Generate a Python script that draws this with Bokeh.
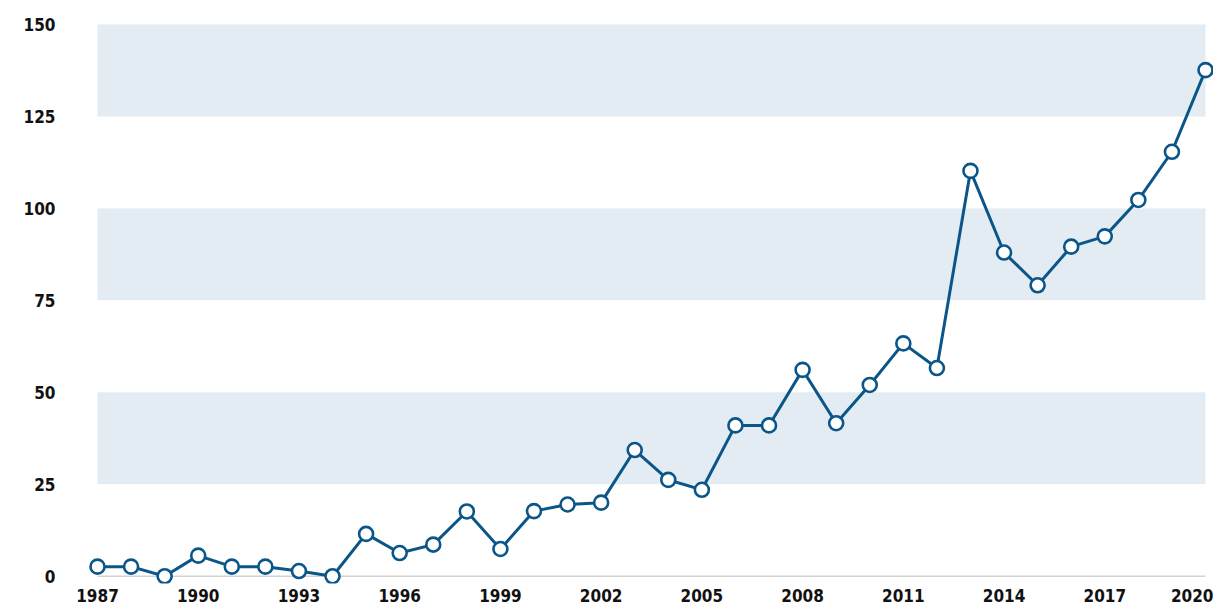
from bokeh.plotting import figure
from bokeh.models import FixedTicker
from bokeh.embed import file_html
from bokeh.resources import INLINE

years = list(range(1987, 2021))
values = [2.6, 2.6, 0.0, 5.6, 2.6, 2.6, 1.4, 0.0, 11.5, 6.3,
          8.6, 17.6, 7.4, 17.7, 19.5, 20.0, 34.3, 26.2, 23.5, 41.0,
          41.0, 56.1, 41.6, 52.0, 63.3, 56.6, 110.2, 88.0, 79.1, 89.6,
          92.4, 102.3, 115.4, 137.6]
y_ticks = [0, 25, 50, 75, 100, 125, 150]
x_ticks = years[::3]
band_bottoms = [25, 75, 125]
band_tops = [50, 100, 150]

FONT = "'DejaVu Sans Condensed', 'Liberation Sans Narrow', Roboto"
BLUE = "#0b5689"

p = figure(width=1213, height=607, output_backend="svg", toolbar_location=None,
           x_range=(1986.732, 2020.238), y_range=(-1.98, 154.35),
           min_border_left=88, min_border_right=0, min_border_top=8, min_border_bottom=24)
p.outline_line_color = None
p.xgrid.visible = False
p.ygrid.visible = False
p.background_fill_color = "white"

p.quad(left=[years[0]] * len(band_bottoms), right=[years[-1]] * len(band_bottoms),
       bottom=band_bottoms, top=band_tops, fill_color="#e4ecf3", line_color=None)
p.line(x=[years[0], years[-1]], y=[0, 0], line_color="#d3d3d3", line_width=1.5)

p.line(years, values, line_color=BLUE, line_width=3)
p.scatter(years, values, size=14, fill_color="white", line_color=BLUE, line_width=2.6)

for ax in (p.xaxis[0], p.yaxis[0]):
    ax.axis_line_color = None
    ax.major_tick_line_color = None
    ax.minor_tick_line_color = None
    ax.major_tick_out = 0
    ax.major_tick_in = 0
    ax.major_label_text_font = FONT
    ax.major_label_text_font_style = "bold"
    ax.major_label_text_font_size = "17px"
    ax.major_label_text_color = "#111111"

p.xaxis.ticker = FixedTicker(ticks=x_ticks)
p.yaxis.ticker = FixedTicker(ticks=y_ticks)
p.xaxis.major_label_standoff = 5
p.yaxis.major_label_standoff = 33

open("out.html", "w").write(file_html(p, INLINE))
